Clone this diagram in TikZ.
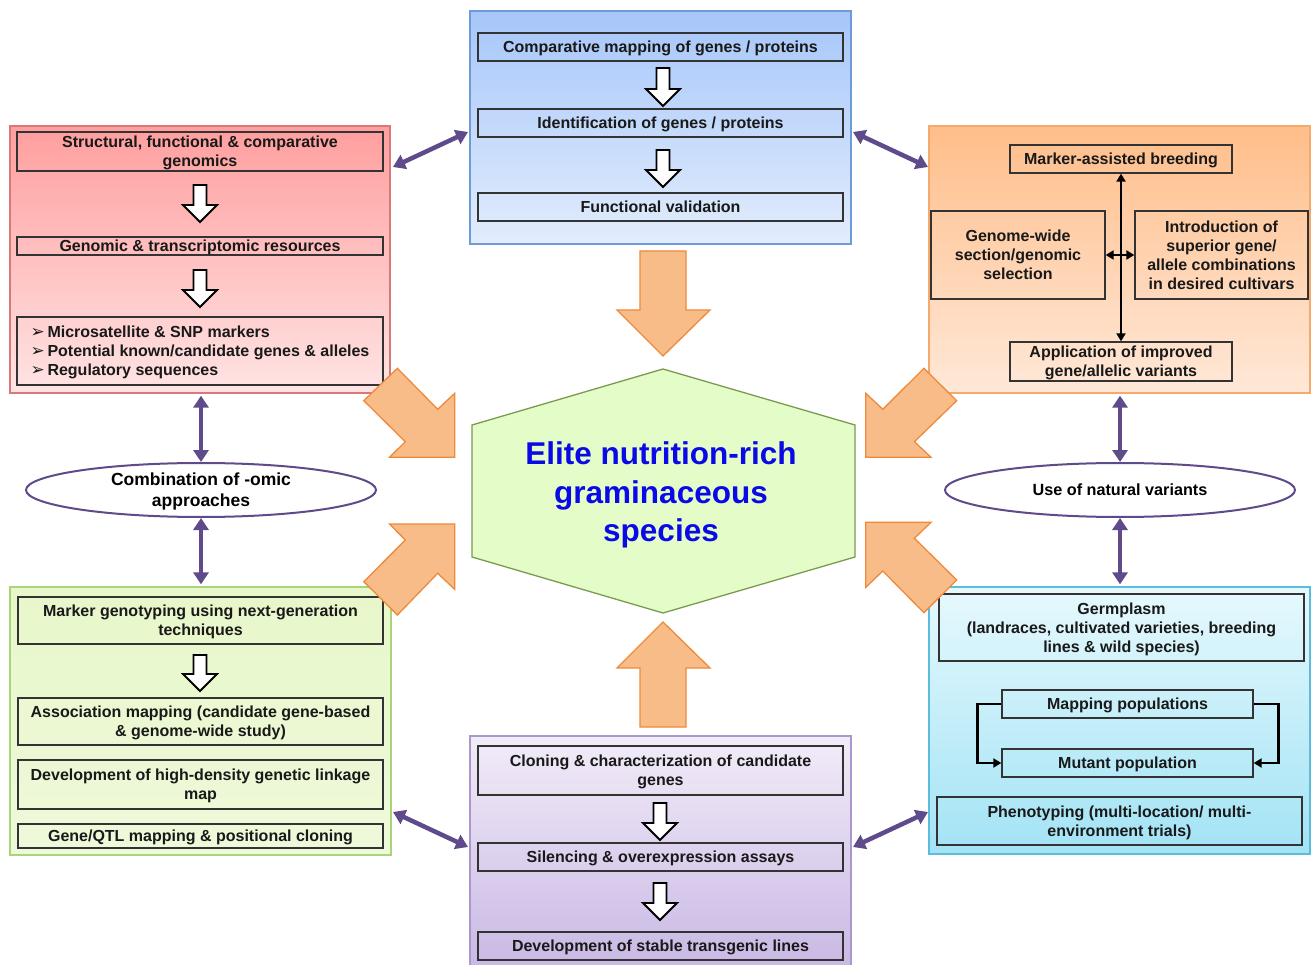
\documentclass[tikz,border=0pt]{standalone}
\usepackage{fontspec}
\setmainfont{Liberation Sans}
\newfontfamily\dejavu{DejaVu Sans}
\usetikzlibrary{shapes.geometric,arrows.meta}
\definecolor{pblue}{HTML}{A6C6FA}\definecolor{pblueb}{HTML}{E2EDFC}\definecolor{pbluel}{HTML}{6E9AD8}
\definecolor{pred}{HTML}{FF9E9E}\definecolor{predb}{HTML}{FFE4E4}\definecolor{predl}{HTML}{D87878}
\definecolor{porg}{HTML}{FFBE8A}\definecolor{porgb}{HTML}{FFE8D8}\definecolor{porgl}{HTML}{F5A96A}
\definecolor{pgrn}{HTML}{E8F7CA}\definecolor{pgrnb}{HTML}{EEF9DA}\definecolor{pgrnl}{HTML}{A8D47A}
\definecolor{pcyn}{HTML}{E6F9FD}\definecolor{pcynb}{HTML}{A2E3F5}\definecolor{pcynl}{HTML}{5BBCDC}
\definecolor{ppur}{HTML}{F2ECF8}\definecolor{ppurb}{HTML}{C9B8E4}\definecolor{ppurl}{HTML}{A898CC}
\definecolor{hexf}{HTML}{E4FCC8}\definecolor{hexl}{HTML}{7A9A50}
\definecolor{barf}{HTML}{F8BC88}\definecolor{barl}{HTML}{EE8A3C}
\definecolor{parr}{HTML}{5F4B8B}\definecolor{elitec}{HTML}{0A0AE6}
\newcommand\hollowdown[3]{%
  \draw[hollow] ({#1-6.5},#2) -- ({#1+6.5},#2) -- ({#1+6.5},{#3-17}) -- ({#1+17},{#3-17})
    -- (#1,#3) -- ({#1-17},{#3-17}) -- ({#1-6.5},{#3-17}) -- cycle;}
\newcommand\bul{{\dejavu\fontsize{17}{17}\selectfont ➢}\,}
\begin{document}
\begin{tikzpicture}[x=1pt,y=-1pt,
  panel/.style={draw=#1, line width=1.3pt, inner sep=0pt},
  ib/.style={draw=black!80, line width=1.3pt, inner sep=0pt, align=center, text depth=0pt,
    font=\fontsize{16}{19}\selectfont\bfseries, text=black!90},
  hollow/.style={draw=black, line width=1.8pt, fill=white, line join=miter},
  oval/.style={ellipse, draw=parr, line width=2pt, fill=white, inner sep=0pt, text depth=0pt,
    minimum width=350pt, minimum height=54pt, align=center,
    font=\fontsize{17.5}{21}\selectfont\bfseries},
  parrow/.style={draw=parr, line width=4.5pt, {Triangle[width=15pt,length=12pt]}-{Triangle[width=15pt,length=12pt]}},
  barrow/.style={fill=barf, draw=barl, line width=1.3pt, line join=miter},
  karrow/.style={draw=black, line width=2.6pt, {Triangle[width=9pt,length=8pt]}-{Triangle[width=9pt,length=8pt]}},
  larrow/.style={draw=black, line width=2.6pt, -{Triangle[width=9pt,length=8pt]}}]
\useasboundingbox[fill=white] (0,0) rectangle (1312,965);

% ---------- panels ----------
\node[panel=pbluel, top color=pblue, bottom color=pblueb, minimum width=381pt, minimum height=233pt] (bluep) at (660.5,127.5) {};
\node[panel=predl, top color=pred, bottom color=predb, minimum width=380pt, minimum height=267pt] (redp) at (200,259.5) {};
\node[panel=porgl, top color=porg, bottom color=porgb, minimum width=381pt, minimum height=267pt] (orgp) at (1119.5,259.5) {};
\node[panel=pgrnl, top color=pgrn, bottom color=pgrnb, minimum width=381pt, minimum height=268pt] (grnp) at (200.5,721) {};
\node[panel=pcynl, top color=pcyn, bottom color=pcynb, minimum width=381pt, minimum height=267pt] (cynp) at (1119.5,720.5) {};
\node[panel=ppurl, top color=ppur, bottom color=ppurb, minimum width=381pt, minimum height=232pt] (purp) at (660.5,852) {};

% ---------- blue panel ----------
\node[ib, minimum width=365pt, minimum height=28pt] (b1) at (660.5,47) {Comparative mapping of genes / proteins};
\node[ib, minimum width=365pt, minimum height=28pt] (b2) at (660.5,123) {Identification of genes / proteins};
\node[ib, minimum width=365pt, minimum height=28pt] (b3) at (660.5,207) {Functional validation};
\hollowdown{663}{68}{106}
\hollowdown{663}{150}{187}

% ---------- red panel ----------
\node[ib, minimum width=366pt, minimum height=39pt] (r1) at (200,151.5) {Structural, functional \& comparative\\genomics};
\node[ib, minimum width=366pt, minimum height=18pt] (r2) at (200,246) {Genomic \& transcriptomic resources};
\node[ib, minimum width=366pt, minimum height=68pt, align=left] (r3) at (200,351)
  {\bul Microsatellite \& SNP markers\\
   \bul Potential known/candidate genes \& alleles\\
   \bul Regulatory sequences};
\hollowdown{200}{185}{222}
\hollowdown{200}{270}{307}

% ---------- orange panel ----------
\node[ib, minimum width=222pt, minimum height=28pt] (o1) at (1121,159) {Marker-assisted breeding};
\node[ib, minimum width=174pt, minimum height=88pt] (o2) at (1018,255) {Genome-wide\\section/genomic\\selection};
\node[ib, minimum width=173pt, minimum height=88pt] (o3) at (1221.5,255) {Introduction of\\superior gene/\\allele combinations\\in desired cultivars};
\node[ib, minimum width=222pt, minimum height=39pt] (o4) at (1121,361.5) {Application of improved\\gene/allelic variants};
\draw[karrow] (o1.south) -- (o4.north);
\draw[karrow] (o2.east) -- (o3.west);

% ---------- green panel ----------
\node[ib, minimum width=365pt, minimum height=47pt] (g1) at (200.5,620.5) {Marker genotyping using next-generation\\techniques};
\node[ib, minimum width=365pt, minimum height=47pt] (g2) at (200.5,721.5) {Association mapping (candidate gene-based\\\& genome-wide study)};
\node[ib, minimum width=365pt, minimum height=49pt] (g3) at (200.5,784.5) {Development of high-density genetic linkage\\map};
\node[ib, minimum width=365pt, minimum height=24pt] (g4) at (200.5,836) {Gene/QTL mapping \& positional cloning};
\hollowdown{200}{655}{691}

% ---------- cyan panel ----------
\node[ib, minimum width=365pt, minimum height=67pt] (c1) at (1121.5,627.5) {Germplasm\\(landraces, cultivated varieties, breeding\\lines \& wild species)};
\node[ib, minimum width=251pt, minimum height=28pt] (c2) at (1127.5,704) {Mapping populations};
\node[ib, minimum width=251pt, minimum height=28pt] (c3) at (1127.5,763) {Mutant population};
\node[ib, minimum width=365pt, minimum height=48pt] (c4) at (1119.5,821) {Phenotyping (multi-location/ multi-\\environment trials)};
\draw[larrow] (c2.west) -- ++(-24,0) |- (c3.west);
\draw[larrow] (c2.east) -- ++(25,0) |- (c3.east);

% ---------- purple panel ----------
\node[ib, minimum width=365pt, minimum height=49pt] (p1) at (660.5,770.5) {Cloning \& characterization of candidate\\genes};
\node[ib, minimum width=365pt, minimum height=28pt] (p2) at (660.5,857) {Silencing \& overexpression assays};
\node[ib, minimum width=365pt, minimum height=28pt] (p3) at (660.5,946) {Development of stable transgenic lines};
\hollowdown{660}{803}{840}
\hollowdown{660}{883}{920}

% ---------- ellipses ----------
\node[oval] (comb) at (201,490) {Combination of -omic\\approaches};
\node[oval, font=\fontsize{16.2}{19}\selectfont\bfseries] (nat) at (1120,490) {Use of natural variants};

% ---------- centre hexagon ----------
\draw[fill=hexf, draw=hexl, line width=1.3pt, line join=miter]
  (663,369) -- (855,425) -- (855,557) -- (663,613) -- (472,557) -- (472,425) -- cycle;
\node[font=\fontsize{31.5}{38.5}\selectfont\bfseries, text=elitec, align=center] (elite) at (661,495)
  {Elite nutrition-rich\\graminaceous\\species};

% ---------- orange block arrows ----------
\draw[barrow] (640,251) -- (686,251) -- (686,310) -- (710,310) -- (663,356) -- (617,310) -- (640,310) -- cycle;
\draw[barrow] (640,727) -- (686,727) -- (686,668) -- (710,668) -- (663,622) -- (617,668) -- (640,668) -- cycle;
\draw[barrow] (397.4,368.3) -- (437.7,409.3) -- (454.7,393.3) -- (454.7,457.3) -- (389.5,457.3) -- (405.3,441.7) -- (363.8,400.7) -- cycle;
\draw[barrow] (397.4,615) -- (437.7,573.3) -- (454.7,589.3) -- (454.7,524) -- (389.5,524) -- (405.3,540) -- (363.8,581.7) -- cycle;
\draw[barrow] (923.9,368.3) -- (882.8,409.3) -- (865.8,393.3) -- (865.8,457.3) -- (931,457.3) -- (914.4,441.7) -- (956.7,400.7) -- cycle;
\draw[barrow] (923.9,612.7) -- (882.8,571) -- (865.8,587.3) -- (865.8,522.3) -- (931,522.3) -- (914.4,538.3) -- (956.7,580) -- cycle;

% ---------- purple double arrows ----------
\draw[parrow] ([yshift=-2pt]redp.south -| comb.north) -- (comb.north);
\draw[parrow] (comb.south) -- ([yshift=2pt]grnp.north -| comb.south);
\draw[parrow] ([yshift=-2pt]orgp.south -| nat.north) -- (nat.north);
\draw[parrow] (nat.south) -- ([yshift=2pt]cynp.north -| nat.south);
\coordinate (d1a) at (393,167); \coordinate (d1b) at (468,132);
\coordinate (d2a) at (853,132); \coordinate (d2b) at (928,167);
\coordinate (d3a) at (393,812); \coordinate (d3b) at (468,847);
\coordinate (d4a) at (853,847); \coordinate (d4b) at (928,812);
\draw[parrow] (d1a) -- (d1b);
\draw[parrow] (d2a) -- (d2b);
\draw[parrow] (d3a) -- (d3b);
\draw[parrow] (d4a) -- (d4b);
\end{tikzpicture}
\end{document}
